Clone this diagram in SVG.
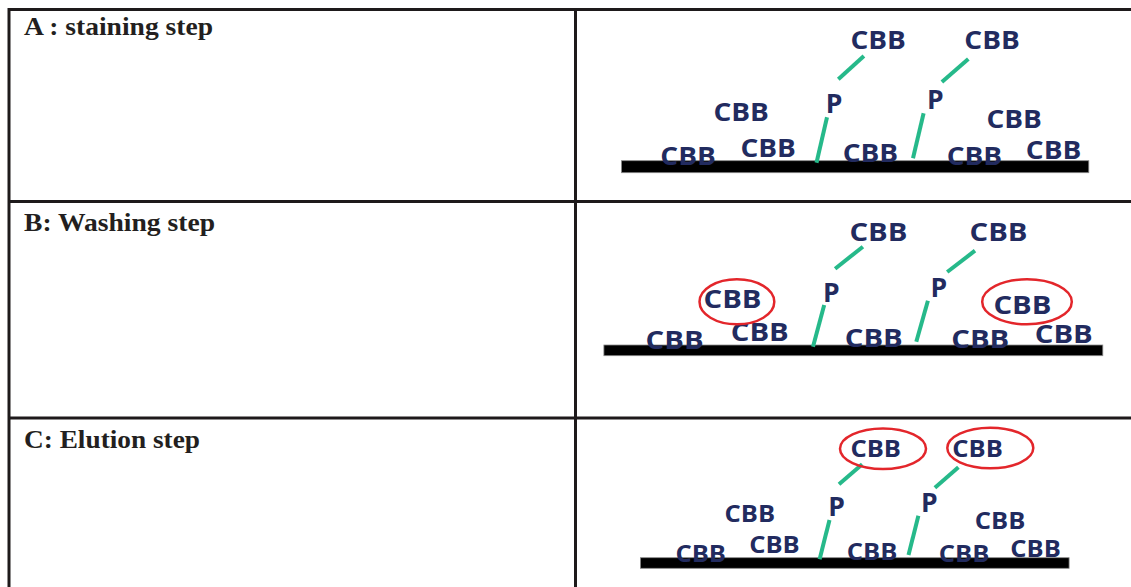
<svg xmlns="http://www.w3.org/2000/svg" width="1131" height="587" viewBox="0 0 1131 587">
<style>
.grid{stroke:#1e1a1b;stroke-width:3;fill:none}
.lbl{font-family:"Liberation Serif","Times New Roman",serif;font-weight:bold;font-size:26px;fill:#231f20}
.cbb{font-family:"Open Sans","Noto Sans",sans-serif;font-weight:700;font-size:25px;fill:#222b5f}
.cbbc{font-family:"Open Sans","Noto Sans",sans-serif;font-weight:700;font-size:24px;fill:#222b5f}
.p{font-family:"Open Sans","Noto Sans",sans-serif;font-weight:700;font-size:26.5px;fill:#222b5f}
.bond{stroke:#26b98a;stroke-width:4;fill:none}
.bar{fill:#000;stroke:#8a8a8a;stroke-width:0.8}
.ring{fill:none;stroke:#e3262b;stroke-width:2.5}
</style>
<g id="table">
<line class="grid" x1="8" y1="9.5" x2="1131" y2="9.5"/>
<line class="grid" x1="9" y1="8" x2="9" y2="587"/>
<line class="grid" x1="575.5" y1="8" x2="575.5" y2="587"/>
<line class="grid" x1="8" y1="201.5" x2="1131" y2="201.5"/>
<line class="grid" x1="8" y1="418" x2="1131" y2="418"/>
</g>
<g id="labels">
<text class="lbl" x="24" y="35" textLength="189" lengthAdjust="spacingAndGlyphs">A : staining step</text>
<text class="lbl" x="24" y="231" textLength="191" lengthAdjust="spacingAndGlyphs">B: Washing step</text>
<text class="lbl" x="24" y="448" textLength="176" lengthAdjust="spacingAndGlyphs">C: Elution step</text>
</g>
<g id="panelA">
<rect class="bar" x="621.5" y="160.7" width="467.3" height="12"/>
<g id="connectorsA">
<line class="bond" x1="838.3" y1="79.3" x2="863.9" y2="56"/>
<line class="bond" x1="941.9" y1="82" x2="968.3" y2="59"/>
<line class="bond" x1="816.5" y1="162.7" x2="827" y2="117.3"/>
<line class="bond" x1="913" y1="158.3" x2="923.6" y2="113.3"/>
</g>
<g id="nodesA">
<text class="cbb" x="850.4" y="49.3" textLength="55.5" lengthAdjust="spacingAndGlyphs">CBB</text>
<text class="cbb" x="964.3" y="49.3" textLength="55.5" lengthAdjust="spacingAndGlyphs">CBB</text>
<text class="cbb" x="713.4" y="120.7" textLength="55.5" lengthAdjust="spacingAndGlyphs">CBB</text>
<text class="cbb" x="986.4" y="128.3" textLength="55.5" lengthAdjust="spacingAndGlyphs">CBB</text>
<text class="cbb" x="740.4" y="156.7" textLength="55.5" lengthAdjust="spacingAndGlyphs">CBB</text>
<text class="cbb" x="660.3" y="165" textLength="55.5" lengthAdjust="spacingAndGlyphs">CBB</text>
<text class="cbb" x="842.7" y="161.7" textLength="55.5" lengthAdjust="spacingAndGlyphs">CBB</text>
<text class="cbb" x="946.7" y="165" textLength="55.5" lengthAdjust="spacingAndGlyphs">CBB</text>
<text class="cbb" x="1025.8" y="159.3" textLength="55.5" lengthAdjust="spacingAndGlyphs">CBB</text>
<text class="p" x="825.8" y="113.3">P</text>
<text class="p" x="927.1" y="109.3">P</text>
</g>
</g>
<g id="panelB">
<rect class="bar" x="603.9" y="345" width="498.9" height="10.7"/>
<g id="connectorsB">
<line class="bond" x1="835.1" y1="268.7" x2="862.9" y2="246.7"/>
<line class="bond" x1="947.2" y1="272" x2="975" y2="250.7"/>
<line class="bond" x1="813" y1="346.7" x2="824.2" y2="305"/>
<line class="bond" x1="916.3" y1="341.7" x2="927.9" y2="300.7"/>
</g>
<g id="nodesB">
<text class="cbb" x="849.4" y="240.7" textLength="58" lengthAdjust="spacingAndGlyphs">CBB</text>
<text class="cbb" x="969.5" y="240.7" textLength="58" lengthAdjust="spacingAndGlyphs">CBB</text>
<text class="cbb" x="703.5" y="307.7" textLength="58" lengthAdjust="spacingAndGlyphs">CBB</text>
<text class="cbb" x="993.4" y="314.3" textLength="58" lengthAdjust="spacingAndGlyphs">CBB</text>
<text class="cbb" x="730.8" y="340.7" textLength="58" lengthAdjust="spacingAndGlyphs">CBB</text>
<text class="cbb" x="645.6" y="349" textLength="58" lengthAdjust="spacingAndGlyphs">CBB</text>
<text class="cbb" x="844.8" y="346.7" textLength="58" lengthAdjust="spacingAndGlyphs">CBB</text>
<text class="cbb" x="951.3" y="347.7" textLength="58" lengthAdjust="spacingAndGlyphs">CBB</text>
<text class="cbb" x="1034.8" y="343.3" textLength="58" lengthAdjust="spacingAndGlyphs">CBB</text>
<text class="p" x="823.1" y="302.3">P</text>
<text class="p" x="930.5" y="296.7">P</text>
<ellipse class="ring" cx="736.9" cy="301.8" rx="37.4" ry="22.5"/>
<ellipse class="ring" cx="1027" cy="301.8" rx="44.8" ry="22.5"/>
</g>
</g>
<g id="panelC">
<rect class="bar" x="640.4" y="557.7" width="428.7" height="10.6"/>
<g id="connectorsC">
<line class="bond" x1="839" y1="484.3" x2="862.2" y2="464.3"/>
<line class="bond" x1="934.9" y1="487.7" x2="958.4" y2="467.3"/>
<line class="bond" x1="819.6" y1="559.3" x2="829.5" y2="520"/>
<line class="bond" x1="908.5" y1="555" x2="918.4" y2="515.7"/>
</g>
<g id="nodesC">
<text class="cbbc" x="850.4" y="457.3" textLength="50.5" lengthAdjust="spacingAndGlyphs">CBB</text>
<text class="cbbc" x="952.3" y="457.3" textLength="50.5" lengthAdjust="spacingAndGlyphs">CBB</text>
<text class="cbbc" x="724.6" y="522.3" textLength="50.5" lengthAdjust="spacingAndGlyphs">CBB</text>
<text class="cbbc" x="974.8" y="529" textLength="50.5" lengthAdjust="spacingAndGlyphs">CBB</text>
<text class="cbbc" x="749.2" y="553.3" textLength="50.5" lengthAdjust="spacingAndGlyphs">CBB</text>
<text class="cbbc" x="675.4" y="561.7" textLength="50.5" lengthAdjust="spacingAndGlyphs">CBB</text>
<text class="cbbc" x="846.8" y="560" textLength="50.5" lengthAdjust="spacingAndGlyphs">CBB</text>
<text class="cbbc" x="938.8" y="561.7" textLength="50.5" lengthAdjust="spacingAndGlyphs">CBB</text>
<text class="cbbc" x="1010.3" y="556.7" textLength="50.5" lengthAdjust="spacingAndGlyphs">CBB</text>
<text class="p" x="828.3" y="516">P</text>
<text class="p" x="920.9" y="511.7">P</text>
<ellipse class="ring" cx="883" cy="448.7" rx="43" ry="20.3"/>
<ellipse class="ring" cx="990.3" cy="448" rx="43" ry="20.3"/>
</g>
</g>
</svg>
